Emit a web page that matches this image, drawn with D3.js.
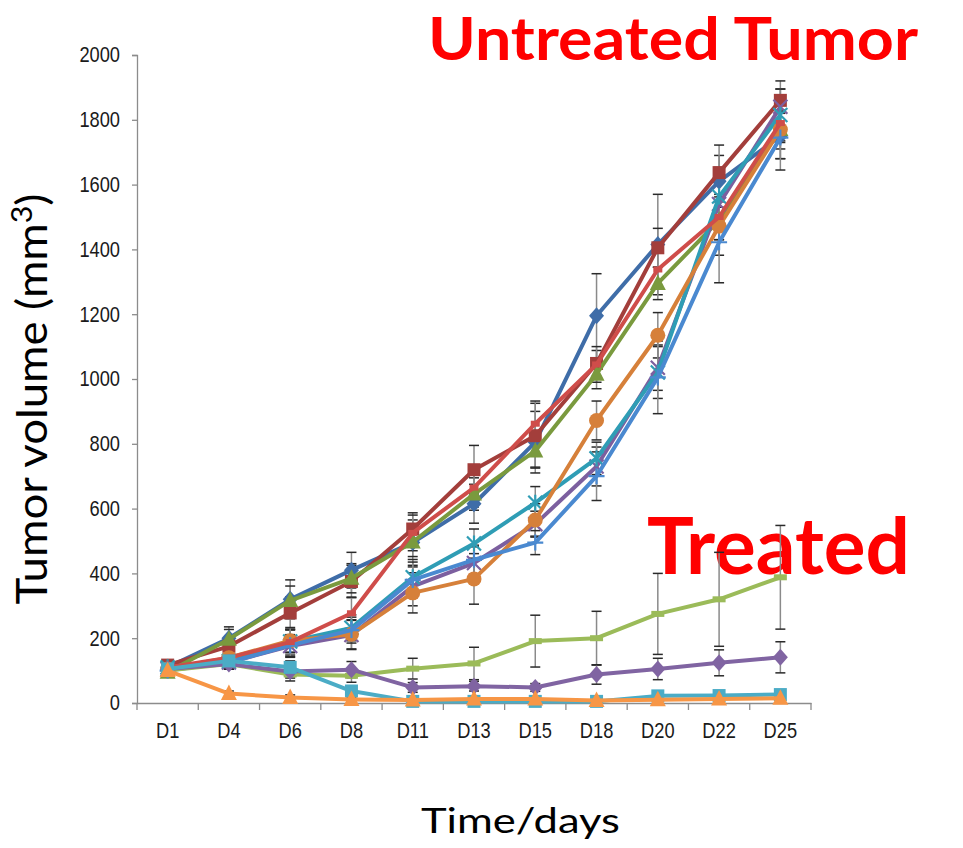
<!DOCTYPE html>
<html>
<head>
<meta charset="utf-8">
<script src="https://cdn.jsdelivr.net/npm/d3@7"></script>
<style>
  html, body { margin: 0; padding: 0; background: #ffffff; }
  svg { display: block; }
</style>
</head>
<body>
<svg id="chart" width="963" height="848"></svg>
<script>
// ---------- data ----------
const categories = ["D1", "D4", "D6", "D8", "D11", "D13", "D15", "D18", "D20", "D22", "D25"];
const yTicks = [0, 200, 400, 600, 800, 1000, 1200, 1400, 1600, 1800, 2000];

// untreated groups (mean volume, mm3)
const untreated1 = [110, 200, 320, 410, 495, 615, 805, 1195, 1415, 1610, 1750];
const untreated2 = [117, 175, 278, 375, 537, 720, 825, 1048, 1405, 1637, 1860];
const untreated3 = [95, 197, 316, 385, 497, 645, 778, 1015, 1295, 1490, 1770];
const untreated4 = [105, 125, 176, 210, 360, 432, 552, 730, 1035, 1540, 1840];
const untreated5 = [110, 130, 190, 232, 388, 492, 618, 755, 1020, 1563, 1815];
const untreated6 = [105, 140, 192, 212, 340, 383, 565, 872, 1135, 1472, 1770];
const untreated7 = [100, 125, 178, 225, 380, 442, 495, 700, 1005, 1422, 1745];
const untreated8 = [110, 140, 188, 277, 525, 665, 862, 1045, 1338, 1500, 1790];
// treated groups
const treated1 = [100, 120, 88, 84, 106, 122, 191, 200, 275, 320, 388];
const treated2 = [105, 120, 97, 103, 48, 52, 48, 88, 105, 124, 141];
const treated3 = [105, 130, 110, 37, 5, 5, 5, 5, 22, 23, 26];
const treated4 = [100, 29, 17, 11, 9, 12, 12, 8, 10, 12, 15];

// error bars (+/-)
const err_untreated1 = [10, 35, 60, 55, 70, 60, 95, 130, 155, 80, 70];
const err_untreated2 = [10, 30, 50, 50, 50, 75, 100, 40, 60, 85, 35];
const err_untreated3 = [10, 30, 45, 45, 45, 50, 50, 45, 50, 60, 60];
const err_untreated4 = [10, 20, 35, 45, 60, 50, 40, 60, 70, 70, 80];
const err_untreated5 = [10, 20, 35, 40, 55, 45, 50, 50, 80, 90, 80];
const err_untreated6 = [10, 20, 35, 45, 62, 78, 50, 60, 70, 90, 90];
const err_untreated7 = [10, 20, 30, 40, 55, 45, 37, 75, 112, 125, 100];
const err_untreated8 = [10, 25, 45, 50, 55, 60, 70, 55, 60, 70, 60];
const err_treated1 = [10, 15, 20, 20, 32, 50, 80, 83, 125, 145, 160];
const err_treated2 = [8, 15, 20, 25, 15, 15, 12, 30, 33, 40, 48];
const err_treated3 = [8, 12, 20, 15, 3, 3, 3, 3, 5, 5, 5];
const err_treated4 = [8, 8, 8, 5, 3, 3, 3, 3, 3, 3, 3];

const seriesValues = [untreated1, untreated2, untreated3, untreated4, untreated5, untreated6,
                      untreated7, untreated8, treated1, treated2, treated3, treated4];
const seriesErrors = [err_untreated1, err_untreated2, err_untreated3, err_untreated4, err_untreated5,
                      err_untreated6, err_untreated7, err_untreated8, err_treated1, err_treated2,
                      err_treated3, err_treated4];

// ---------- styles ----------
const seriesColors = ["#3F6DA8", "#A33E3B", "#7A9A3E", "#7C5F9F", "#2F9DB5", "#D6803A",
                      "#4A89D0", "#CF4D4A", "#9BBB59", "#8064A2", "#4BACC6", "#F79646"];
const seriesMarkers = ["diamond", "square", "triangle", "x", "star", "circle",
                       "plus", "dash", "longdash", "diamond", "square", "triangle"];

// ---------- layout ----------
const svg = d3.select("#chart");
const plot = { left: 137, right: 811, top: 55, bottom: 703 };

const x = d3.scaleBand().domain(categories).range([plot.left, plot.right]).paddingInner(0).paddingOuter(0);
const cx = c => x(c) + x.bandwidth() / 2;
const y = d3.scaleLinear().domain([0, 2000]).range([plot.bottom, plot.top]);

const axisColor = "#8c8c8c";
const tickFont = "'Liberation Sans', Arial, sans-serif";
const squeeze = 0.85;   // narrow look of the tick labels

// titles behind the plot
svg.append("text")
  .attr("x", 428).attr("y", 59.5)
  .attr("textLength", 490).attr("lengthAdjust", "spacingAndGlyphs")
  .style("font-family", "Lato, 'Open Sans', sans-serif")
  .style("font-weight", "bold").style("font-size", "60px").style("fill", "#FF0000")
  .text("Untreated Tumor");

svg.append("text")
  .attr("x", 647).attr("y", 574)
  .attr("textLength", 263).attr("lengthAdjust", "spacingAndGlyphs")
  .style("font-family", "Lato, 'Open Sans', sans-serif")
  .style("font-weight", "bold").style("font-size", "78px").style("fill", "#FF0000")
  .text("Treated");

// Y axis
const yAxis = d3.axisLeft(y).tickValues(yTicks).tickSize(5).tickPadding(12).tickFormat(d3.format("d"));
const gy = svg.append("g").attr("transform", `translate(${plot.left},0)`).call(yAxis);
gy.select(".domain").attr("stroke", axisColor).attr("stroke-width", 1.3);
gy.selectAll(".tick line").attr("stroke", axisColor).attr("stroke-width", 1.3);
gy.selectAll(".tick text")
  .attr("x", -17 / squeeze)
  .attr("transform", `scale(${squeeze},1)`)
  .style("font-family", tickFont).style("font-size", "21.5px").style("fill", "#1a1a1a");

// X axis
const xAxis = d3.axisBottom(x).tickSize(0).tickPadding(20);
const gx = svg.append("g").attr("transform", `translate(0,${plot.bottom})`).call(xAxis);
gx.select(".domain").attr("stroke", axisColor).attr("stroke-width", 1.3);
gx.selectAll(".tick text")
  .attr("transform", `scale(${squeeze},1)`)
  .style("font-family", tickFont).style("font-size", "21.5px").style("fill", "#1a1a1a");
// category boundary ticks
const boundaries = categories.map(c => x(c)).concat([x(categories[categories.length - 1]) + x.bandwidth()]);
gx.selectAll(".bt").data(boundaries).enter().append("line")
  .attr("x1", d => d).attr("x2", d => d).attr("y1", 0).attr("y2", 7)
  .attr("stroke", axisColor).attr("stroke-width", 1.3);

// axis titles
const yt = svg.append("text")
  .attr("transform", "translate(47,399) rotate(-90)")
  .attr("text-anchor", "middle")
  .attr("textLength", 411).attr("lengthAdjust", "spacingAndGlyphs")
  .style("font-family", "Lato, 'Open Sans', sans-serif")
  .style("font-size", "42px").style("fill", "#000");
yt.append("tspan").text("Tumor volume (mm");
yt.append("tspan").attr("dy", "-15").style("font-size", "28px").text("3");
yt.append("tspan").attr("dy", "15").text(")");

svg.append("text")
  .attr("x", 421).attr("y", 833)
  .attr("textLength", 199).attr("lengthAdjust", "spacingAndGlyphs")
  .style("font-family", "Lato, 'Open Sans', sans-serif")
  .style("font-size", "34px").style("fill", "#000")
  .text("Time/days");

// ---------- error bars ----------
const gErr = svg.append("g");
seriesValues.forEach((vals, si) => {
  const errs = seriesErrors[si];
  vals.forEach((v, i) => {
    const px = cx(categories[i]);
    const top = y(v + errs[i]), bot = y(Math.max(0, v - errs[i]));
    gErr.append("line").attr("x1", px).attr("x2", px).attr("y1", top).attr("y2", bot)
      .attr("stroke", "#8a8a8a").attr("stroke-width", 1.5);
    [top, bot].forEach(yy => {
      gErr.append("line").attr("x1", px - 5).attr("x2", px + 5).attr("y1", yy).attr("y2", yy)
        .attr("stroke", "#2a2a2a").attr("stroke-width", 1.5);
    });
  });
});

// ---------- series ----------
const line = d3.line().x((d, i) => cx(categories[i])).y(d => y(d));

function drawMarker(g, type, px, py, color) {
  const s = 7;
  if (type === "diamond") {
    g.append("path").attr("d", `M${px},${py - 8.5}L${px + 7.5},${py}L${px},${py + 8.5}L${px - 7.5},${py}Z`).attr("fill", color);
  } else if (type === "square") {
    g.append("rect").attr("x", px - 6.5).attr("y", py - 6.5).attr("width", 13).attr("height", 13).attr("fill", color);
  } else if (type === "triangle") {
    g.append("path").attr("d", `M${px},${py - 9}L${px + 8},${py + 6.5}L${px - 8},${py + 6.5}Z`).attr("fill", color);
  } else if (type === "circle") {
    g.append("circle").attr("cx", px).attr("cy", py).attr("r", 7.5).attr("fill", color);
  } else if (type === "x") {
    g.append("path").attr("d", `M${px - s},${py - s}L${px + s},${py + s}M${px - s},${py + s}L${px + s},${py - s}`)
      .attr("stroke", color).attr("stroke-width", 2.2).attr("fill", "none");
  } else if (type === "star") {
    g.append("path").attr("d", `M${px - s},${py - s}L${px + s},${py + s}M${px - s},${py + s}L${px + s},${py - s}M${px},${py - s - 1}L${px},${py + s + 1}`)
      .attr("stroke", color).attr("stroke-width", 2.2).attr("fill", "none");
  } else if (type === "plus") {
    g.append("path").attr("d", `M${px - 8},${py}L${px + 8},${py}M${px},${py - 8}L${px},${py + 8}`)
      .attr("stroke", color).attr("stroke-width", 2.2).attr("fill", "none");
  } else if (type === "dash") {
    g.append("rect").attr("x", px - 4.5).attr("y", py - 3).attr("width", 9).attr("height", 6).attr("fill", color);
  } else if (type === "longdash") {
    g.append("rect").attr("x", px - 6.5).attr("y", py - 3).attr("width", 13).attr("height", 6).attr("fill", color);
  }
}

seriesValues.forEach((vals, si) => {
  const g = svg.append("g");
  g.append("path").datum(vals).attr("d", line)
    .attr("fill", "none").attr("stroke", seriesColors[si]).attr("stroke-width", 4)
    .attr("stroke-linejoin", "round");
  vals.forEach((v, i) => drawMarker(g, seriesMarkers[si], cx(categories[i]), y(v), seriesColors[si]));
});
</script>
</body>
</html>
